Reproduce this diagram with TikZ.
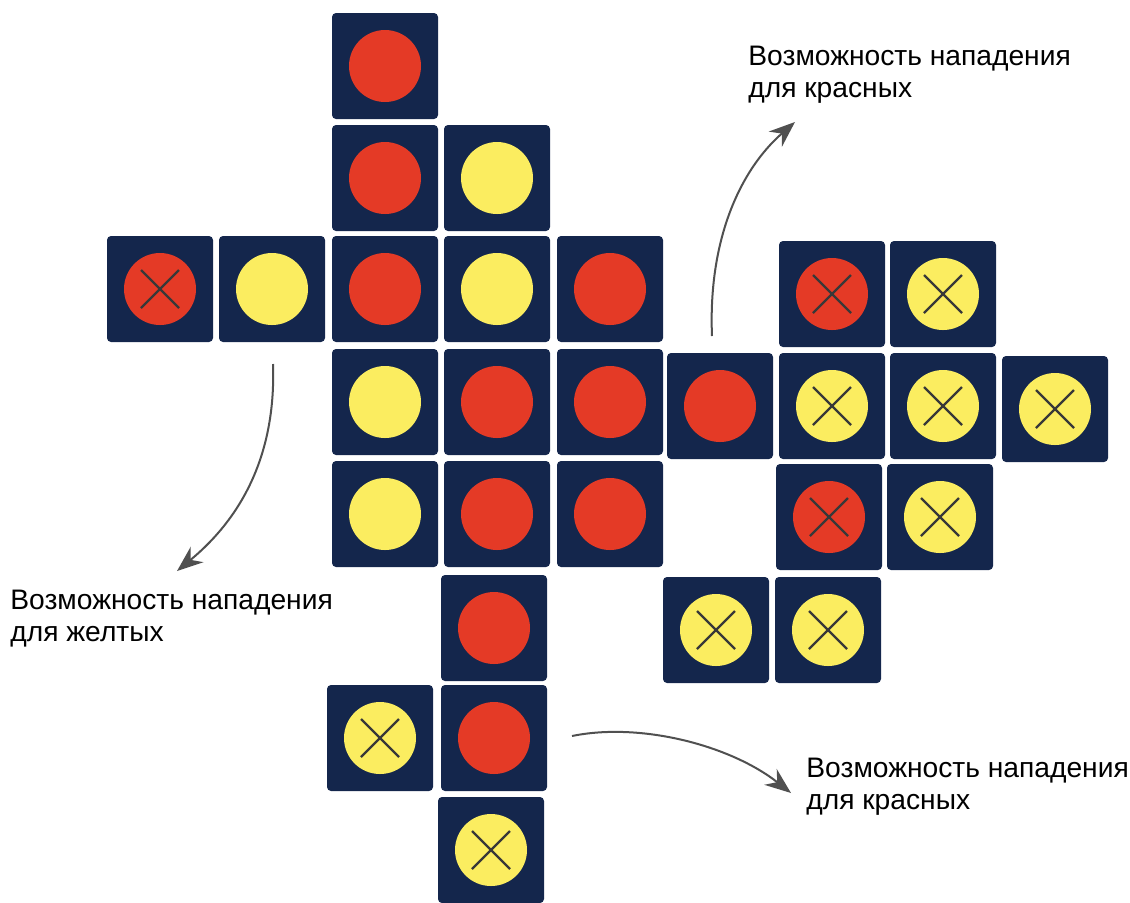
\documentclass[tikz,border=0pt]{standalone}
\usepackage{fontspec}
\setmainfont{Liberation Sans}
\usepackage{tikz}
\usetikzlibrary{arrows.meta,positioning}
\definecolor{tilenavy}{RGB}{20,38,76}
\definecolor{discred}{RGB}{228,58,38}
\definecolor{discyellow}{RGB}{251,237,96}
\definecolor{hintgray}{RGB}{80,80,80}
\tikzset{
  tile/.style={fill=tilenavy,rounded corners=2pt,minimum size=53pt,inner sep=0pt},
  disc/.style={circle,fill=#1,minimum size=36pt,inner sep=0pt},
  cross/.style={line width=1.1pt,draw=black!78},
  hint/.style={-{Stealth[length=13pt,width=10pt]},hintgray,line width=1pt},
  caption/.style={align=left,anchor=north west,inner sep=0pt,
    font=\fontsize{14.1}{16}\selectfont}
}

\begin{document}
\begin{tikzpicture}[x=0.5pt,y=-0.5pt]
  \useasboundingbox (0,0) rectangle (1130,902);
  % plain pieces: x/y/colour/name
  \foreach \x/\y/\c/\n in {385/66/discred/r0c2, 385/178/discred/r1c2,
      497/178/discyellow/r1c3, 272/289/discyellow/r2c1, 385/289/discred/r2c2,
      497/289/discyellow/r2c3, 610/289/discred/r2c4, 385/402/discyellow/r3c2,
      497/402/discred/r3c3, 610/402/discred/r3c4, 720/406/discred/r3c5,
      385/514/discyellow/r4c2, 497/514/discred/r4c3, 610/514/discred/r4c4,
      494/628/discred/r5c3, 494/738/discred/r6c3}{
    \node[tile] (\n) at (\x,\y) {};
    \node[disc=\c] (\n-d) at (\n) {};
  }
  % crossed pieces
  \foreach \x/\y/\c/\n in {160/289/discred/r2c0, 832/294/discred/r2c6,
      943/294/discyellow/r2c7, 832/406/discyellow/r3c6, 943/406/discyellow/r3c7,
      1055/409/discyellow/r3c8, 829/517/discred/r4c6, 940/517/discyellow/r4c7,
      716/630/discyellow/r5c5, 828/630/discyellow/r5c6, 380/738/discyellow/r6c2,
      491/850/discyellow/r7c3}{
    \node[tile] (\n) at (\x,\y) {};
    \node[disc=\c] (\n-d) at (\n) {};
    \draw[cross] ([shift={(-19,-19)}]\n.center) -- ([shift={(19,19)}]\n.center);
    \draw[cross] ([shift={(-19,19)}]\n.center) -- ([shift={(19,-19)}]\n.center);
  }
  % captions
  \node[caption] (redtop) at (748,46) {Возможность нападения\\для красных};
  \node[caption] (yellowleft) at (10,590) {Возможность нападения\\для желтых};
  \node[caption] (redbottom) at (806,758) {Возможность нападения\\для красных};
  % arrows
  \coordinate (s1) at (712,336);
  \coordinate (e1) at (795,122);
  \coordinate (s2) at (273,364);
  \coordinate (e2) at (177,571);
  \coordinate (s3) at (572,736);
  \coordinate (e3) at (791,793);
  \draw[hint] (s1) .. controls (708,240) and (740,170) .. (e1);
  \draw[hint] (s2) .. controls (276,450) and (245,515) .. (e2);
  \draw[hint] (s3) .. controls (640,722) and (730,745) .. (e3);
\end{tikzpicture}
\end{document}
